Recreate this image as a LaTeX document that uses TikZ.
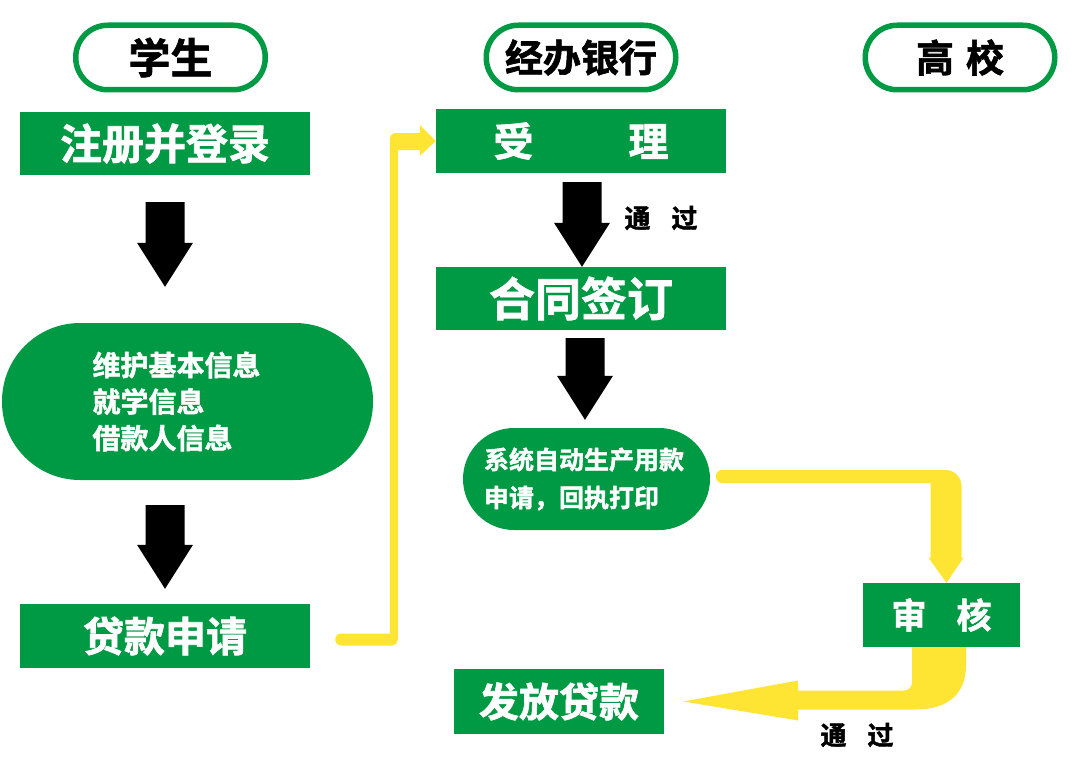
\documentclass[tikz,border=0pt]{standalone}
\usepackage{fontspec}
\setmainfont{Noto Sans CJK SC}[BoldFont={Noto Sans CJK SC Bold}, BoldFeatures={FakeBold=1.6}]
\usetikzlibrary{calc}
\definecolor{mygreen}{HTML}{009944}
\definecolor{myyellow}{HTML}{FFE533}
\tikzset{
  header/.style={draw=mygreen, line width=5.5pt, fill=white, rounded corners=32pt,
    minimum width=189.5pt, minimum height=64.5pt, inner sep=0pt, text=black},
  gbox/.style={fill=mygreen, text=white, inner sep=0pt},
  gpill/.style={fill=mygreen, text=white, inner sep=0pt, align=left},
  passlabel/.style={inner sep=0pt, text=black, font=\bfseries\fontsize{26}{28}\selectfont},
  yel/.style={fill=myyellow},
}
\newcommand\blkarr[2]{\fill[black] let \p1=(#1), \p2=(#2) in
  (\x1-19.5pt,\y1) -- (\x1+19.5pt,\y1) -- (\x1+19.5pt,\y2+44pt) -- (\x1+28pt,\y2+44pt)
  -- (\x1,\y2) -- (\x1-28pt,\y2+44pt) -- (\x1-19.5pt,\y2+44pt) -- cycle;}
\begin{document}
\begin{tikzpicture}[x=1pt,y=-1pt]
\useasboundingbox (0,0) rectangle (1080,776);
\fill[white] (0,0) rectangle (1080,776);

% headers
\node[header, font=\bfseries\fontsize{42}{44}\selectfont] (hs) at (170.5,57.5) {学生};
\node[header, font=\bfseries\fontsize{38}{40}\selectfont] (hb) at (581,57.5) {经办银行};
\node[header, font=\bfseries\fontsize{38}{40}\selectfont] (hg) at (960,57.5) {高\hspace{12pt}校};

% student column
\node[gbox, minimum width=290pt, minimum height=63pt, font=\bfseries\fontsize{42}{44}\selectfont] (reg) at (165,143.5) {注册并登录};
\node[gpill, minimum width=371pt, minimum height=157pt, rounded corners=78pt, text width=190pt,
  font=\bfseries\fontsize{28}{36.5}\selectfont] (info) at (187.5,401.5) {维护基本信息\\就学信息\\借款人信息};
\node[gbox, minimum width=290pt, minimum height=64pt, font=\bfseries\fontsize{41}{44}\selectfont] (loan) at (165,636) {贷款申请};

% bank column
\node[gbox, minimum width=290pt, minimum height=64pt, font=\bfseries\fontsize{40}{44}\selectfont] (accept) at (581,141) {受\hspace{95pt}理};
\node[gbox, minimum width=290pt, minimum height=63pt, font=\bfseries\fontsize{46}{48}\selectfont] (contract) at (581,298.5) {合同签订};
\node[gpill, minimum width=247pt, minimum height=102pt, rounded corners=51pt, text width=205pt,
  font=\bfseries\fontsize{25}{38}\selectfont] (gen) at (586.5,479) {系统自动生产用款\\申请，回执打印};

% school column
\node[gbox, minimum width=157pt, minimum height=64pt, font=\bfseries\fontsize{35}{36}\selectfont] (audit) at (941.5,615) {审\hspace{30pt}核};
\node[gbox, minimum width=210pt, minimum height=65pt, font=\bfseries\fontsize{40}{44}\selectfont] (rel) at (559,701.5) {发放贷款};

% labels
\node[passlabel] (pass1) at (661,218) {通\hspace{21pt}过};
\node[passlabel] (pass2) at (857,735) {通\hspace{21pt}过};

% black arrows
\coordinate (a1s) at ($(reg.south)+(0,27)$);
\coordinate (a1e) at ($(info.north)+(0,-36)$);
\blkarr{a1s}{a1e}
\coordinate (a2s) at ($(info.south)+(-22.5,25)$);
\coordinate (a2e) at ($(loan.north)+(0,-15)$);
\blkarr{a2s}{a2e}
\coordinate (a3s) at ($(accept.south)+(1,9)$);
\coordinate (a3e) at (contract.north);
\blkarr{a3s}{a3e}
\coordinate (a4s) at ($(contract.south)+(4,8)$);
\coordinate (a4e) at ($(gen.north)+(0,-8)$);
\blkarr{a4s}{a4e}

% yellow connector: loan -> accept
\fill[yel] let \p1=(loan.east), \p2=(accept.west) in
  (\x1+31pt,\y1-9.5pt) arc(270:90:6pt)
  -- (\x2-46pt,\y1+2.5pt) -- (\x2-46pt,\y2+2pt) arc(180:90:6pt)
  -- (\x2-16pt,\y2+8pt) -- (\x2-16pt,\y2+16pt) -- (\x2,\y2) -- (\x2-16pt,\y2-15pt)
  -- (\x2-16pt,\y2-9pt) -- (\x2-38pt,\y2-9pt) -- (\x2-38pt,\y1-4pt) arc(0:-90:5.5pt) -- cycle;

% yellow connector: gen -> audit
\coordinate (y2t) at ($(audit.north)+(5,0)$);
\fill[yel] let \p1=(gen.east), \p2=(y2t) in
  (\x1+12pt,\y1-4pt) arc(270:90:6.5pt)
  -- (\x2-1pt,\y1+9pt) arc(90:0:16pt)
  -- (\x2+15pt,\y2+25pt) -- (\x2+17pt,\y2+25pt) -- (\x2,\y2) -- (\x2-18pt,\y2+25pt)
  -- (\x2-16pt,\y2+25pt) -- (\x2-16pt,\y1-4pt) -- cycle;

% yellow connector: audit -> release
\coordinate (y3t) at ($(rel.east)+(19,0)$);
\fill[yel] let \p1=(audit.south), \p2=(y3t) in
  (\x1-29.5pt,\y1) -- (\x1-29.5pt,\y2+19pt) arc(0:-90:8pt)
  -- (\x2+115pt,\y2+11pt) -- (\x2+115pt,\y2+21pt) -- (\x2,\y2) -- (\x2+115pt,\y2-19pt)
  -- (\x2+115pt,\y2-8pt) -- (\x1-26pt,\y2-8pt)
  .. controls (\x1+9pt,\y2-8pt) and (\x1+24.5pt,\y2+10pt) .. (\x1+24.5pt,\y2+36pt)
  -- (\x1+24.5pt,\y1) -- cycle;
\end{tikzpicture}
\end{document}
